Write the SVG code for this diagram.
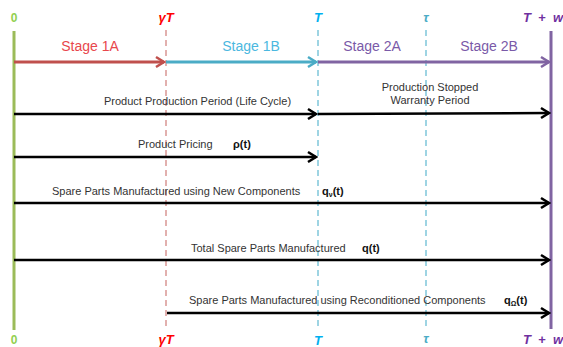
<svg xmlns="http://www.w3.org/2000/svg" width="563" height="347" viewBox="0 0 563 347">
<style>
.lbl{font-family:"Liberation Sans",Arial,sans-serif;font-size:11px;fill:#333}
.bold{font-family:"Liberation Sans",Arial,sans-serif;font-size:11px;font-weight:bold;fill:#111}
.stage{font-family:"Liberation Sans",Arial,sans-serif;font-size:14px}
.tick{font-family:"Liberation Sans",Arial,sans-serif;font-size:13px;font-weight:bold;font-style:italic}
.zero{font-family:"Liberation Sans",Arial,sans-serif;font-size:12px;font-weight:bold;fill:#92d050}
.blk{stroke:#000;stroke-width:2.5;fill:none}
</style>
<defs>
<marker id="ab" viewBox="-10 -7 12 14" markerWidth="12" markerHeight="14" refX="0" refY="0" orient="auto" markerUnits="userSpaceOnUse"><path d="M-8,-5 L0,0 L-8,5" fill="none" stroke="#000" stroke-width="2.5"/></marker>
<marker id="ar" viewBox="-10 -7 12 14" markerWidth="12" markerHeight="14" refX="0" refY="0" orient="auto" markerUnits="userSpaceOnUse"><path d="M-8,-5 L0,0 L-8,5" fill="none" stroke="#c0504d" stroke-width="2.5"/></marker>
<marker id="ac" viewBox="-10 -7 12 14" markerWidth="12" markerHeight="14" refX="0" refY="0" orient="auto" markerUnits="userSpaceOnUse"><path d="M-8,-5 L0,0 L-8,5" fill="none" stroke="#4bacc6" stroke-width="2.5"/></marker>
<marker id="ap" viewBox="-10 -7 12 14" markerWidth="12" markerHeight="14" refX="0" refY="0" orient="auto" markerUnits="userSpaceOnUse"><path d="M-8,-5 L0,0 L-8,5" fill="none" stroke="#8064a2" stroke-width="2.5"/></marker>
</defs>
<rect width="563" height="347" fill="#fff"/>
<g id="axes">
<line x1="14" y1="31" x2="14" y2="330" stroke="#9bbb59" stroke-width="3"/>
<line x1="166" y1="30" x2="166" y2="330" stroke="#d99694" stroke-width="1.5" stroke-dasharray="6,4"/>
<line x1="318" y1="30" x2="318" y2="330" stroke="#7fc6da" stroke-width="1.5" stroke-dasharray="6,4"/>
<line x1="426" y1="30" x2="426" y2="330" stroke="#7fc6da" stroke-width="1.5" stroke-dasharray="6,4"/>
<line x1="551" y1="31" x2="551" y2="329" stroke="#8064a2" stroke-width="3"/>
<text class="zero" x="14" y="22" text-anchor="middle">0</text>
<text class="tick" x="166" y="22" text-anchor="middle" fill="#ff0000">γT</text>
<text class="tick" x="318" y="22" text-anchor="middle" fill="#00b0f0">T</text>
<text class="tick" x="426" y="22" text-anchor="middle" fill="#4bacc6" font-size="10">τ</text>
<text class="tick" x="543" y="22" text-anchor="middle" fill="#7030a0" xml:space="preserve">T  +  w</text>
<text class="zero" x="14" y="344" text-anchor="middle">0</text>
<text class="tick" x="166" y="344" text-anchor="middle" fill="#ff0000">γT</text>
<text class="tick" x="318" y="345" text-anchor="middle" fill="#00b0f0">T</text>
<text class="tick" x="426" y="343" text-anchor="middle" fill="#4bacc6" font-size="10">τ</text>
<text class="tick" x="543" y="344" text-anchor="middle" fill="#7030a0" xml:space="preserve">T  +  w</text>
</g>
<g id="stages">
<line x1="14" y1="62" x2="164" y2="62" stroke="#c0504d" stroke-width="3" marker-end="url(#ar)"/>
<line x1="166" y1="62" x2="316" y2="62" stroke="#4bacc6" stroke-width="3" marker-end="url(#ac)"/>
<line x1="318" y1="62" x2="549" y2="62" stroke="#8064a2" stroke-width="3" marker-end="url(#ap)"/>
<text class="stage" x="90" y="51" text-anchor="middle" fill="#e8474c">Stage 1A</text>
<text class="stage" x="251" y="51" text-anchor="middle" fill="#4bb8e0">Stage 1B</text>
<text class="stage" x="372" y="51" text-anchor="middle" fill="#7a5aa8">Stage 2A</text>
<text class="stage" x="489" y="51" text-anchor="middle" fill="#7a5aa8">Stage 2B</text>
</g>
<g id="connectors">
<line class="blk" x1="14" y1="114" x2="316" y2="114" marker-end="url(#ab)"/>
<line class="blk" x1="318" y1="114" x2="549" y2="113" marker-end="url(#ab)"/>
<line class="blk" x1="14" y1="157" x2="316" y2="157" marker-end="url(#ab)"/>
<line class="blk" x1="14" y1="203" x2="549" y2="203" marker-end="url(#ab)"/>
<line class="blk" x1="14" y1="260" x2="549" y2="260" marker-end="url(#ab)"/>
<line class="blk" x1="167" y1="313" x2="549" y2="313" marker-end="url(#ab)"/>
</g>
<g id="labels">
<text class="lbl" x="104" y="105">Product Production Period (Life Cycle)</text>
<text class="lbl" x="430" y="91" text-anchor="middle">Production Stopped</text>
<text class="lbl" x="430" y="104" text-anchor="middle">Warranty Period</text>
<text class="lbl" x="138" y="148">Product Pricing</text>
<text class="bold" x="233" y="148">ρ(t)</text>
<text class="lbl" x="52" y="195">Spare Parts Manufactured using New Components</text>
<text class="bold" x="322" y="195">q<tspan font-size="7" dy="2">ν</tspan><tspan dy="-2">(t)</tspan></text>
<text class="lbl" x="191" y="252">Total Spare Parts Manufactured</text>
<text class="bold" x="362" y="252">q(t)</text>
<text class="lbl" x="189" y="304">Spare Parts Manufactured using Reconditioned Components</text>
<text class="bold" x="504" y="304">q<tspan font-size="7" dy="2">Ω</tspan><tspan dy="-2">(t)</tspan></text>
</g>
</svg>
